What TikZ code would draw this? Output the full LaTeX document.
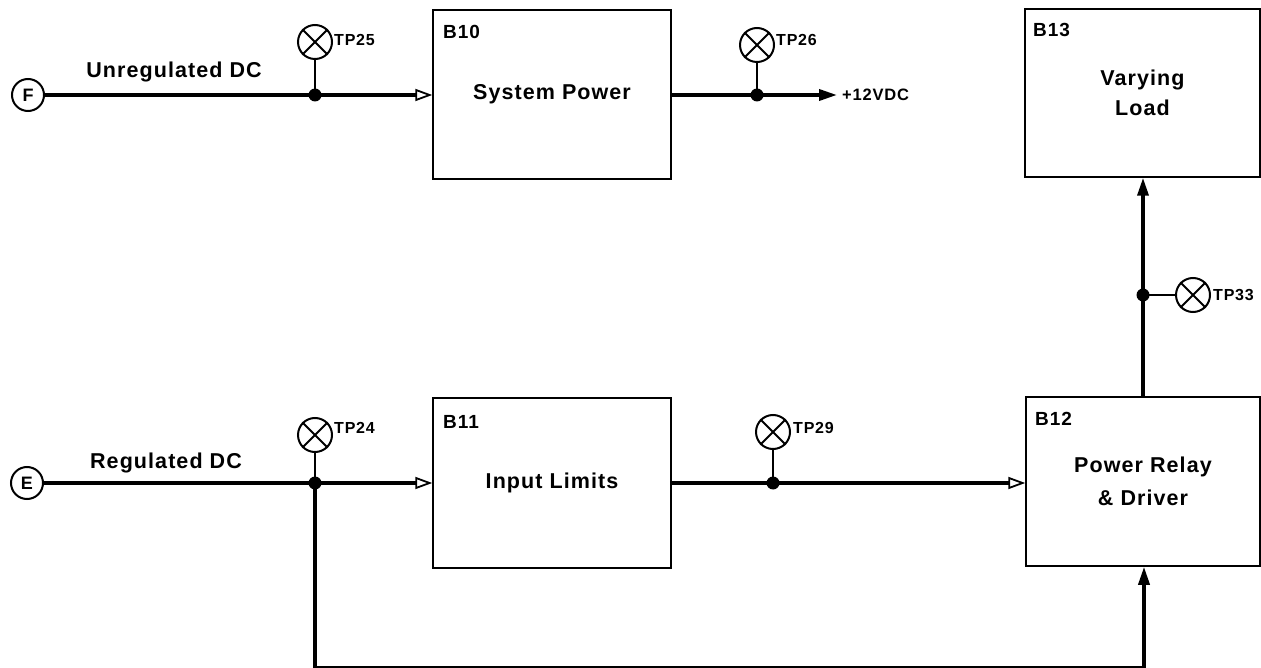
\documentclass[tikz,border=0pt]{standalone}
\usepackage{fontspec}
\setmainfont{Liberation Sans}[LetterSpace=5]
\usetikzlibrary{arrows.meta}
\tikzset{
 sig/.style={line width=3.5pt},
 stemline/.style={line width=2pt},
 tp/.style={circle, draw, line width=2pt, minimum size=34pt, inner sep=0pt},
 port/.style={circle, draw, line width=2pt, minimum size=32pt, inner sep=0pt, font=\bfseries\fontsize{18}{18}\selectfont},
 tplbl/.style={anchor=west, inner sep=0pt, font=\bfseries\fontsize{16}{16}\selectfont},
 blk/.style={draw, line width=1.5pt, inner sep=0pt, align=center, font=\bfseries\fontsize{21.5}{33}\selectfont},
 blklbl/.style={anchor=west, inner sep=0pt, font=\bfseries\fontsize{19}{19}\selectfont},
 linelbl/.style={inner sep=0pt, font=\bfseries\fontsize{21.5}{21.5}\selectfont},
 oarr/.style={-{Triangle[open, length=17pt, width=12pt, line width=1.8pt]}},
 farr/.style={-{Triangle[length=18pt, width=11pt]}},
}
\begin{document}
\begin{tikzpicture}[x=1pt,y=-1pt]
\useasboundingbox (0,0) rectangle (1261,668);
% blocks
\node[blk, minimum width=238pt, minimum height=169pt] (b10) at (552,94.5) {System Power};
\node[blk, minimum width=235pt, minimum height=168pt] (b13) at (1142.5,93) {Varying\\[-3pt]Load};
\node[blk, minimum width=238pt, minimum height=170pt] (b11) at (552,483) {Input Limits};
\node[blk, minimum width=234pt, minimum height=169pt] (b12) at (1143,481.5) {Power Relay\\\&~Driver};
\node[blklbl] (l10) at (443,32) {B10};
\node[blklbl] (l13) at (1033,30) {B13};
\node[blklbl] (l11) at (443,422) {B11};
\node[blklbl] (l12) at (1035,419) {B12};
% ports
\node[port] (F) at (28,95) {F};
\node[port] (E) at (27,483) {E};
\node[linelbl] (lu) at (174,72) {Unregulated DC};
\node[linelbl] (lr) at (166,463) {Regulated DC};
% junctions
\coordinate (j25) at (315,95);
\coordinate (j26) at (757,95);
\coordinate (j24) at (315,483);
\coordinate (j29) at (773,483);
\coordinate (j33) at (1143,295);
% test points
\node[tp] (tp25) at (315,42) {};
\node[tp] (tp26) at (757,45) {};
\node[tp] (tp24) at (315,435) {};
\node[tp] (tp29) at (773,432) {};
\node[tp] (tp33) at (1193,295) {};
\foreach \t in {tp24,tp25,tp26,tp29,tp33} {
  \draw[stemline] (\t.north east) -- (\t.south west) (\t.north west) -- (\t.south east);
}
\node[tplbl] (t25) at (334,40) {TP25};
\node[tplbl] (t26) at (776,40) {TP26};
\node[tplbl] (t24) at (334,428) {TP24};
\node[tplbl] (t29) at (793,428) {TP29};
\node[tplbl] (t33) at (1213,295) {TP33};
\node[anchor=west, inner sep=0pt, font=\bfseries\fontsize{16.5}{16.5}\selectfont] (v12) at (842,95) {+12VDC};
% connectors
\draw[sig,oarr] (F) -- (F -| b10.west);
\draw[sig,farr] (b10.east |- j26) -- ([xshift=-5pt]v12.west);
\draw[sig,oarr] (E) -- (E -| b11.west);
\draw[sig,oarr] (b11.east |- j29) -- (j29 -| b12.west);
\draw[sig,farr] (j33 |- b12.north) -- (j33 |- b13.south);
\coordinate (bl) at (315,668);
\coordinate (br) at (1144,668);
\draw[sig,farr] (j24) -- (bl) -- (br) -- (br |- b12.south);
\draw[stemline] (tp25) -- (j25);
\draw[stemline] (tp26) -- (j26);
\draw[stemline] (tp24) -- (j24);
\draw[stemline] (tp29) -- (j29);
\draw[stemline] (tp33) -- (j33);
\foreach \j in {j24,j25,j26,j29,j33} { \fill (\j) circle[radius=6.5pt]; }
\end{tikzpicture}
\end{document}
